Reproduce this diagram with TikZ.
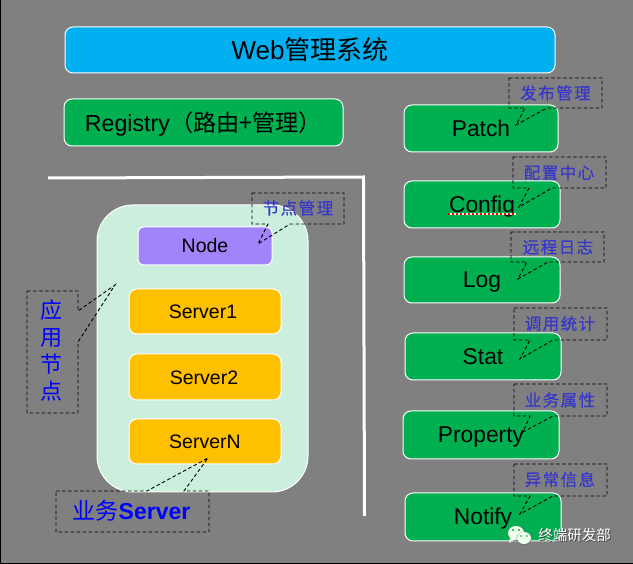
\documentclass[tikz,border=0pt]{standalone}
\usepackage{fontspec}
\setmainfont{Liberation Sans}
\newfontfamily\cjk{Noto Sans CJK SC}
\newfontfamily\cjkwide[LetterSpace=9,FakeBold=0.4]{Noto Sans CJK SC}
\definecolor{bggray}{HTML}{808080}
\definecolor{skyb}{HTML}{00B0F0}
\definecolor{greenb}{HTML}{00B050}
\definecolor{mint}{HTML}{CCEEDD}
\definecolor{purp}{HTML}{A284FA}
\definecolor{amber}{HTML}{FFC000}
\definecolor{tagblue}{HTML}{3636CC}
\tikzset{
  rbox/.style={draw=white,line width=1pt,rounded corners=8pt,inner sep=0pt,text=black,align=center},
  greenbox/.style={rbox,fill=greenb,font=\fontsize{22.8}{26}\selectfont,text height=18pt,text depth=2pt},
  amberbox/.style={rbox,fill=amber,font=\fontsize{19.5}{23}\selectfont,text height=16.5pt,text depth=2pt},
  tagtext/.style={inner sep=0pt,text=tagblue,font=\fontsize{16.5}{20}\selectfont\cjkwide},
  tagline/.style={draw=black,line width=0.9pt,dash pattern=on 3.5pt off 2.5pt},
  wall/.style={draw=white,line width=3pt,line join=miter}
}
% name, x1,y1,x2,y2, base1, base2, tipx,tipy
\newcommand{\tagcall}[9]{%
  \draw[tagline] (#2,#3) -- (#4,#3) -- (#4,#5) -- (#7,#5) -- (#8,#9) -- (#6,#5) -- (#2,#5) -- cycle;
}
\begin{document}
\begin{tikzpicture}[x=1pt,y=-1pt]
\useasboundingbox (0,0) rectangle (633,564);
\fill[black] (0,0) rectangle (633,564);
\fill[bggray] (1,0) rectangle (633,563);

% main boxes
\node[rbox,fill=skyb,minimum width=490pt,minimum height=46pt,font=\fontsize{26}{30}\selectfont,text height=22pt,text depth=2pt] (web) at (310,50) {Web{\cjk 管理系统}};
\node[greenbox,minimum width=279pt,minimum height=47pt,font=\fontsize{23.2}{28}\selectfont,text height=21pt,text depth=2pt] (registry) at (203.5,122.5) {Registry{\cjk （路由+管理）}};
\node[greenbox,minimum width=154pt,minimum height=47pt] (patch) at (481,128.5) {Patch};
\node[greenbox,minimum width=156pt,minimum height=47pt] (config) at (482,204.5) {Config};
\node[greenbox,minimum width=156pt,minimum height=46pt] (log) at (482,280) {Log};
\node[greenbox,minimum width=156pt,minimum height=47pt] (stat) at (483,356.5) {Stat};
\node[greenbox,minimum width=156pt,minimum height=48pt] (property) at (481,435) {Property};
\node[greenbox,minimum width=156pt,minimum height=48pt] (notify) at (483,517) {Notify};

% spell-check squiggle under Config
\draw[white,line width=1.4pt] (448,214) -- (516,214);
\draw[red,line width=1.4pt,dash pattern=on 2pt off 2pt] (448,214) -- (516,214);

% walls
\coordinate (wallA) at (48,178);
\coordinate (wallB) at (363.5,177);
\coordinate (wallC) at (364.5,516);
\draw[wall] (wallA) -- (wallB) -- (wallC);

% application node
\node[draw=white,line width=1pt,fill=mint,rounded corners=36pt,minimum width=211pt,minimum height=287pt,inner sep=0pt] (app) at (202.5,348.5) {};
\node[rbox,rounded corners=6pt,fill=purp,minimum width=134pt,minimum height=38pt,font=\fontsize{19.5}{23}\selectfont,text height=15.5pt,text depth=2pt] (nodebox) at (205,246) {Node};
\node[amberbox,minimum width=152pt,minimum height=45pt] (s1) at (205,311.5) {Server1\kern4pt};
\node[amberbox,minimum width=152pt,minimum height=46pt] (s2) at (205,377) {Server2\kern2pt};
\node[amberbox,minimum width=152pt,minimum height=45pt] (sn) at (205,441.5) {ServerN};

% right-hand callouts
\tagcall{a}{509}{78}{602}{108}{525}{547}{516}{125}
\node[tagtext] (tpatch) at (555.5,93) {发布管理};
\tagcall{b}{513}{157}{606}{188}{529}{552}{519}{207}
\node[tagtext] (tconfig) at (559,172.5) {配置中心};
\tagcall{c}{511}{232}{604}{262}{527}{548}{518}{279}
\node[tagtext] (tlog) at (558,247) {远程日志};
\tagcall{d}{514}{308}{607}{340}{530}{553}{520}{359}
\node[tagtext] (tstat) at (560,323.5) {调用统计};
\tagcall{e}{514}{384}{607}{416}{530}{553}{523}{432}
\node[tagtext] (tprop) at (560,400) {业务属性};
\tagcall{f}{514}{464}{607}{496}{530}{553}{520}{514}
\node[tagtext] (tnotify) at (560,479.5) {异常信息};
% node callout
\tagcall{g}{252}{193}{344}{224}{268}{290}{258}{244}
\node[tagtext] (tnode) at (298,208) {节点管理};

% left callout
\draw[tagline] (27,291) -- (78,291) -- (78,311) -- (115,285) -- (78,342) -- (78,413) -- (27,413) -- cycle;
\node[inner sep=0pt,text=blue,align=center,font=\fontsize{22}{27}\selectfont\cjk] (tapp) at (52,351) {应\\用\\节\\点};

% bottom callout
\draw[tagline] (56,491) -- (147,491) -- (208,458) -- (184,491) -- (209,491) -- (209,532) -- (56,532) -- cycle;
\node[inner sep=0pt,text=blue,font=\fontsize{23}{27}\selectfont] (tbiz) at (131.5,511) {{\cjk 业务}\textbf{Server}};

% watermark
\fill[black!55] (516.5,533.5) ellipse (8.5pt and 7.5pt);
\fill[white!92!green] (516,533) ellipse (8pt and 7pt);
\fill[white!92!green] (510,538) -- (509,543) -- (515,539) -- cycle;
\fill[black!55] (524,538.5) ellipse (7.5pt and 6.5pt);
\fill[white!92!green] (524,538) ellipse (7pt and 6pt);
\fill[greenb] (513,530) circle (1.1pt) (519,530) circle (1.1pt) (521,536) circle (0.9pt) (527,536) circle (0.9pt);
\node[inner sep=0pt,text=black!70,font=\fontsize{14.5}{18}\selectfont\cjk] (wmshadow) at (575.5,536) {终端研发部};
\node[inner sep=0pt,text=white,font=\fontsize{14.5}{18}\selectfont\cjk] (wm) at (574.5,535) {终端研发部};
\end{tikzpicture}
\end{document}
